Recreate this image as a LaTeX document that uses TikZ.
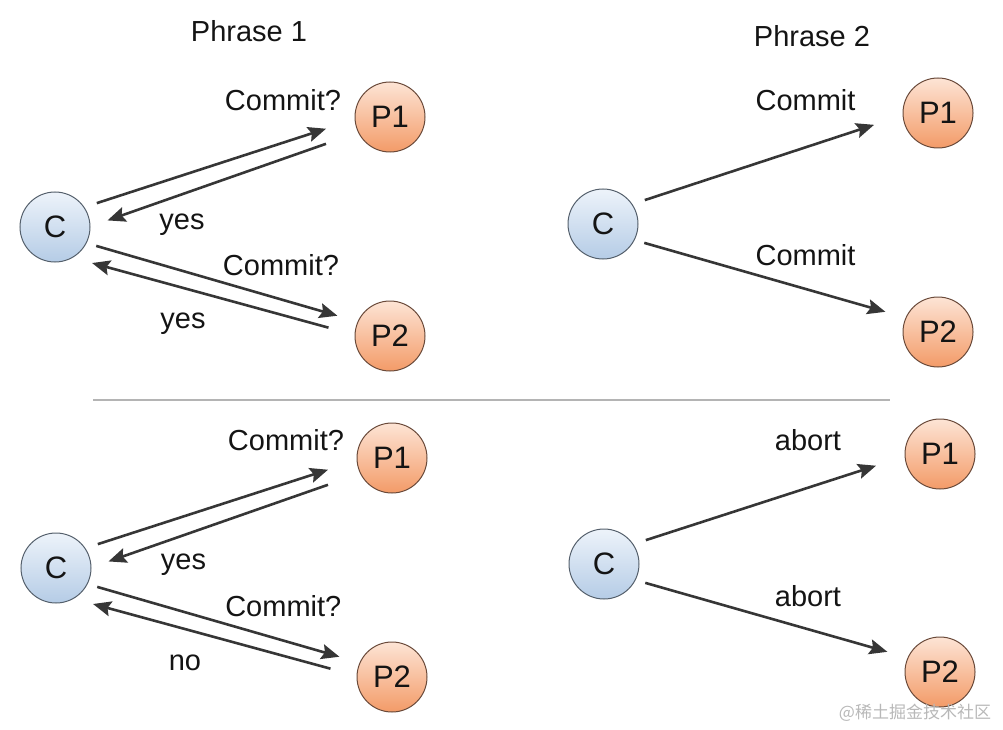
\documentclass[tikz,border=0pt]{standalone}
\usepackage{fontspec}
\setmainfont{Liberation Sans}
\newfontfamily\cjkfont{Noto Sans CJK SC}
\usetikzlibrary{arrows.meta}
\definecolor{linec}{HTML}{363636}
\definecolor{ctop}{HTML}{EDF3FA}
\definecolor{cbot}{HTML}{B5CCE6}
\definecolor{cborder}{HTML}{55606C}
\definecolor{ptop}{HTML}{FDE4D5}
\definecolor{pbot}{HTML}{F39B68}
\definecolor{pborder}{HTML}{6A4A3A}
\definecolor{divc}{HTML}{B4B4B4}
\begin{document}
\begin{tikzpicture}[x=1pt,y=-1pt,
  txt/.style={font=\fontsize{29}{34}\selectfont, text=black!92},
  lbl/.style={txt, anchor=base, inner sep=0pt},
  coordn/.style={circle, minimum size=70pt, inner sep=0pt, draw=cborder, line width=1pt,
    top color=ctop, bottom color=cbot, txt, font=\fontsize{31}{34}\selectfont},
  partn/.style={circle, minimum size=70pt, inner sep=0pt, draw=pborder, line width=1pt,
    top color=ptop, bottom color=pbot, txt, font=\fontsize{31}{34}\selectfont},
  msg/.style={draw=linec, line width=2.6pt, -{Stealth[length=18pt,width=15pt,inset=3pt]}},
  fwdup/.style={msg, shorten <=13pt, shorten >=30pt},
  backup/.style={msg, shorten <=34pt, shorten >=18pt},
  fwddown/.style={msg, shorten <=10pt, shorten >=21pt},
  backdown/.style={msg, shorten <=27pt, shorten >=20pt},
  divider/.style={draw=divc, line width=2pt},
]
\useasboundingbox (0,0) rectangle (1003,730);

% titles
\node[lbl] (t1) at (249,42) {Phrase 1};
\node[lbl] (t2) at (812,47) {Phrase 2};

% ---------- top left ----------
\node[coordn] (ca) at (55,227) {C};
\node[partn] (pa1) at (390,117) {P1};
\node[partn] (pa2) at (390,336) {P2};
\draw[fwdup] (ca.34) -- (pa1.184);
\draw[backup] (pa1.206) -- (ca.1);
\draw[fwddown] (ca.-27) -- (pa2.156);
\draw[backdown] (pa2.178) -- (ca.-60);
\node[lbl] (la1) at (283,110.7) {Commit?};
\node[lbl] (la2) at (182,229) {yes};
\node[lbl] (la3) at (281,275) {Commit?};
\node[lbl] (la4) at (183,328) {yes};

% ---------- top right ----------
\node[coordn] (cb) at (603,224) {C};
\node[partn] (pb1) at (938,113) {P1};
\node[partn] (pb2) at (938,332) {P2};
\draw[fwdup] (cb.34) -- (pb1.184);
\draw[fwddown] (cb.-27) -- (pb2.156);
\node[lbl] (lb1) at (805.5,110.7) {Commit};
\node[lbl] (lb2) at (805.5,265.7) {Commit};

% divider
\coordinate (d1) at (93,400);
\coordinate (d2) at (890,400);
\draw[divider] (d1) -- (d2);

% ---------- bottom left ----------
\node[coordn] (cc) at (56,568) {C};
\node[partn] (pc1) at (392,458) {P1};
\node[partn] (pc2) at (392,677) {P2};
\draw[fwdup] (cc.34) -- (pc1.184);
\draw[backup] (pc1.206) -- (cc.1);
\draw[fwddown] (cc.-27) -- (pc2.156);
\draw[backdown] (pc2.178) -- (cc.-60);
\node[lbl] (lc1) at (286,450.7) {Commit?};
\node[lbl] (lc2) at (183.5,569) {yes};
\node[lbl] (lc3) at (283.3,616) {Commit?};
\node[lbl] (lc4) at (185,670.7) {no};

% ---------- bottom right ----------
\node[coordn] (cd) at (604,564) {C};
\node[partn] (pd1) at (940,454) {P1};
\node[partn] (pd2) at (940,672) {P2};
\draw[fwdup] (cd.34) -- (pd1.184);
\draw[fwddown] (cd.-27) -- (pd2.156);
\node[lbl] (ld1) at (808,450.7) {abort};
\node[lbl] (ld2) at (808,606.7) {abort};

% watermark
\node[font=\cjkfont\fontsize{17}{20}\selectfont, text=black!28, inner sep=0pt] (wm) at (915,713) {@稀土掘金技术社区};
\end{tikzpicture}
\end{document}
